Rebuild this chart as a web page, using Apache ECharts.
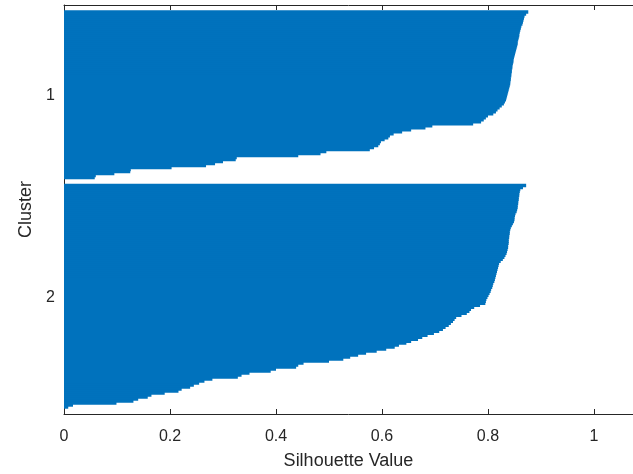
<!DOCTYPE html>
<html>
<head>
<meta charset="utf-8">
<script src="https://cdn.jsdelivr.net/npm/echarts@6/dist/echarts.min.js"></script>
<style>
    html, body { margin: 0; padding: 0; background: #fff; }
    #chart { width: 633px; height: 474px; }
</style>
</head>
<body>
<div id="chart"></div>
<script>
// silhouette values, each cluster sorted high -> low
const cluster1 = [
    0.876, 0.872, 0.869, 0.868, 0.867, 0.866, 0.865, 0.863, 0.862, 0.861,
    0.860, 0.859, 0.859, 0.858, 0.857, 0.856, 0.856, 0.855, 0.854, 0.853,
    0.852, 0.851, 0.850, 0.849, 0.848, 0.848, 0.847, 0.846, 0.846, 0.845,
    0.845, 0.844, 0.844, 0.843, 0.843, 0.842, 0.842, 0.841, 0.840, 0.839,
    0.838, 0.837, 0.836, 0.835, 0.834, 0.832, 0.830, 0.826, 0.822, 0.818,
    0.815, 0.810, 0.800, 0.796, 0.792, 0.787, 0.772, 0.695, 0.682, 0.655,
    0.638, 0.622, 0.615, 0.612, 0.605, 0.598, 0.596, 0.593, 0.585, 0.577,
    0.495, 0.484, 0.442, 0.326, 0.324, 0.300, 0.285, 0.268, 0.203, 0.126,
    0.125, 0.095, 0.060, 0.058
];
const cluster2 = [
    0.872, 0.866, 0.861, 0.860, 0.859, 0.859, 0.858, 0.858, 0.857, 0.857,
    0.856, 0.856, 0.855, 0.854, 0.852, 0.851, 0.850, 0.850, 0.849, 0.847,
    0.845, 0.843, 0.842, 0.841, 0.841, 0.840, 0.840, 0.839, 0.839, 0.839,
    0.838, 0.838, 0.837, 0.836, 0.835, 0.833, 0.831, 0.828, 0.824, 0.821,
    0.820, 0.819, 0.818, 0.817, 0.816, 0.815, 0.814, 0.813, 0.812, 0.810,
    0.809, 0.808, 0.806, 0.805, 0.803, 0.801, 0.799, 0.797, 0.796, 0.795,
    0.785, 0.774, 0.768, 0.765, 0.760, 0.750, 0.740, 0.737, 0.734, 0.730,
    0.726, 0.720, 0.715, 0.708, 0.698, 0.686, 0.676, 0.668, 0.655, 0.646,
    0.632, 0.624, 0.608, 0.590, 0.570, 0.555, 0.540, 0.527, 0.500, 0.452,
    0.442, 0.438, 0.400, 0.390, 0.350, 0.335, 0.328, 0.280, 0.265, 0.255,
    0.245, 0.238, 0.222, 0.216, 0.190, 0.165, 0.158, 0.140, 0.131, 0.099,
    0.017, 0.008
];
const clusterNames = ['1', '2'];
const xTicks = [0, 0.2, 0.4, 0.6, 0.8, 1];

const gapRows = 3;   // empty rows between / around clusters

// build rows like matlab silhouette: gap, cluster, gap, cluster, gap
let rows = [];
let rowLabels = [];
let tickIdx = [];
[cluster1, cluster2].forEach((c, i) => {
    for (let g = 0; g < gapRows; g++) { rows.push(null); rowLabels.push(''); }
    let start = rows.length;
    c.forEach(v => { rows.push(v); rowLabels.push(''); });
    let mid = start + Math.floor(c.length / 2);
    rowLabels[mid] = clusterNames[i];
    tickIdx.push(mid);
});
for (let g = 0; g < gapRows; g++) { rows.push(null); rowLabels.push(''); }

const axisColor = '#262626';
const font = 'Liberation Sans';
const xMax = 1.0736;   // axis runs off the right side of the figure

const chart = echarts.init(document.getElementById('chart'));
chart.setOption({
    animation: false,
    grid: {
        left: 64,
        right: 0,
        top: 5,
        bottom: 60,
        outerBoundsMode: 'none'
    },
    xAxis: [
        {
            type: 'value',
            min: 0,
            max: xMax,
            interval: 0.2,
            name: 'Silhouette Value',
            nameLocation: 'middle',
            nameGap: 38,
            nameTextStyle: { color: axisColor, fontFamily: font, fontSize: 18 },
            axisLine: { show: true, lineStyle: { color: axisColor } },
            axisTick: { show: true, inside: true, length: 5, lineStyle: { color: axisColor } },
            axisLabel: {
                color: axisColor,
                fontFamily: font,
                fontSize: 16,
                margin: 15,
                showMaxLabel: false,
                formatter: v => xTicks.indexOf(+v.toFixed(2)) >= 0 ? String(+v.toFixed(2)) : ''
            },
            splitLine: { show: false }
        },
        {
            type: 'value',
            position: 'top',
            min: 0,
            max: xMax,
            interval: 0.2,
            axisLine: { show: true, lineStyle: { color: axisColor } },
            axisTick: { show: true, inside: true, length: 5, lineStyle: { color: axisColor } },
            axisLabel: { show: false },
            splitLine: { show: false }
        }
    ],
    yAxis: {
        type: 'category',
        inverse: true,
        data: rowLabels,
        name: 'Cluster',
        nameLocation: 'middle',
        nameGap: 28,
        nameTextStyle: { color: axisColor, fontFamily: font, fontSize: 18 },
        axisLine: { show: true, lineStyle: { color: axisColor } },
        axisTick: {
            show: true,
            inside: true,
            length: 5,
            alignWithLabel: true,
            interval: (idx) => tickIdx.indexOf(idx) >= 0,
            lineStyle: { color: axisColor }
        },
        axisLabel: {
            color: axisColor,
            fontFamily: font,
            fontSize: 16,
            margin: 9,
            interval: (idx) => tickIdx.indexOf(idx) >= 0
        }
    },
    series: [{
        type: 'bar',
        data: rows,
        barWidth: 3.4,   // wider than the row so neighbours overlap, no seams
        itemStyle: { color: '#0072BD' }
    }]
});
</script>
</body>
</html>
